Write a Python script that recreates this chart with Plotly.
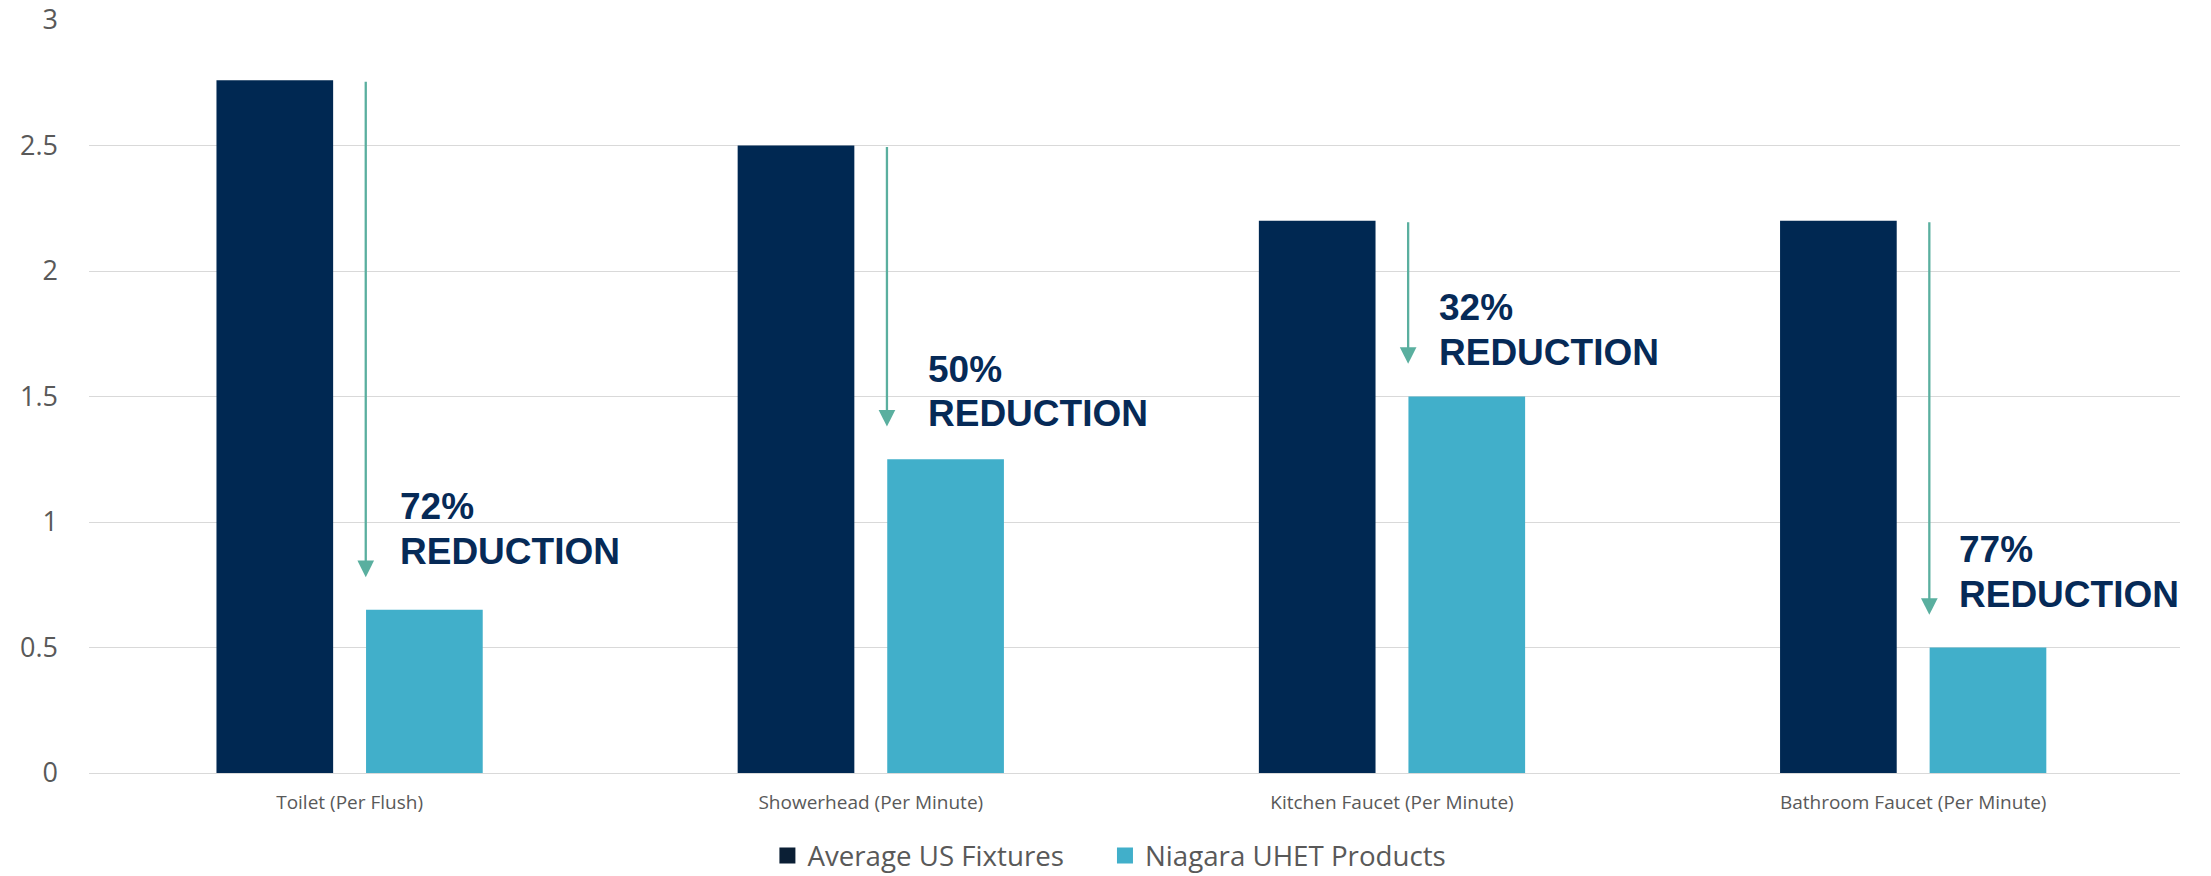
import plotly.graph_objects as go

# Flow rates (gallons per flush / per minute)
categories = ["Toilet (Per Flush)", "Showerhead (Per Minute)",
              "Kitchen Faucet (Per Minute)", "Bathroom Faucet (Per Minute)"]
average_us = [2.76, 2.5, 2.2, 2.2]
niagara = [0.65, 1.25, 1.5, 0.5]
reduction_labels = ["72%", "50%", "32%", "77%"]

series_names = ["Average US Fixtures", "Niagara UHET Products"]
y_ticks = [0, 0.5, 1, 1.5, 2, 2.5, 3]

# Styling
DARK = "#002852"
LIGHT = "#41AFCA"
ARROW = "#5AAF9F"
LABEL = "#062A57"
GRID = "#D9D9D9"
TICK = "#595959"

# Annotation placement (layout only)
arrow_dx = 0.031         # arrow sits at the left edge of the second bar
arrow_gap = 0.13         # arrow tip stops just above the second bar
label_dx = [0.094, 0.107, 0.088, 0.086]
label_top_base = [1.012, 1.558, 1.806, 0.842]   # baseline of the percent line
label_bot_base = [0.834, 1.382, 1.624, 0.662]   # baseline of "REDUCTION"
legend_pad = "\u00a0" * 5                       # extra room between legend entries

fig = go.Figure()
fig.add_trace(go.Bar(x=categories, y=average_us, name=series_names[0],
                     marker=dict(color=DARK, line=dict(width=0)), showlegend=False))
fig.add_trace(go.Bar(x=categories, y=niagara, name=series_names[1],
                     marker=dict(color=LIGHT, line=dict(width=0)), showlegend=False))

# Legend entries with larger square swatches
for name, col, pad in zip(series_names, ["#0B1F35", LIGHT], [legend_pad, ""]):
    fig.add_trace(go.Scatter(x=[None], y=[None], mode="markers", name=name + pad,
                             marker=dict(symbol="square", size=16, color=col)))

annotations = []
for i in range(len(categories)):
    ax_x = i + arrow_dx
    annotations.append(dict(
        x=ax_x, y=niagara[i] + arrow_gap, ax=ax_x, ay=average_us[i],
        xref="x", yref="y", axref="x", ayref="y", text="",
        showarrow=True, arrowhead=2, arrowsize=1.45, arrowwidth=2.3,
        arrowcolor=ARROW, standoff=0, startstandoff=0,
    ))
    for txt, yb in ((reduction_labels[i], label_top_base[i]),
                    ("REDUCTION", label_bot_base[i])):
        annotations.append(dict(
            x=i + label_dx[i], y=yb, xref="x", yref="y", text=txt,
            showarrow=False, xanchor="left", yanchor="bottom", yshift=-9,
            borderpad=0,
            font=dict(family="Liberation Sans, Arial", size=37,
                      color=LABEL, weight="bold"),
        ))

fig.update_layout(
    width=2211, height=876,
    margin=dict(l=89, r=31, t=20, b=103, autoexpand=False),
    paper_bgcolor="white", plot_bgcolor="white",
    barmode="group", bargap=0.426, bargroupgap=0.22,
    font=dict(family="Open Sans", color=TICK),
    showlegend=True,
    legend=dict(orientation="h", x=0.488, xanchor="center",
                yref="container", y=20 / 876, yanchor="middle",
                font=dict(family="Open Sans", size=27.7, color=TICK),
                bgcolor="rgba(0,0,0,0)"),
    annotations=annotations,
    xaxis=dict(type="category", showgrid=False, showline=False, zeroline=False,
               ticks="", automargin=False,
               tickfont=dict(family="Open Sans", size=19, color=TICK),
               ticklabelstandoff=16),
    yaxis=dict(range=[0, 3], tickvals=y_ticks, ticktext=[f"{v:g}" for v in y_ticks],
               showgrid=True, gridcolor=GRID, gridwidth=1.3,
               zeroline=True, zerolinecolor=GRID, zerolinewidth=1.3,
               showline=False, ticks="", automargin=False,
               tickfont=dict(family="Open Sans", size=27, color=TICK),
               ticklabelstandoff=30),
)

fig.write_html("out.html")
